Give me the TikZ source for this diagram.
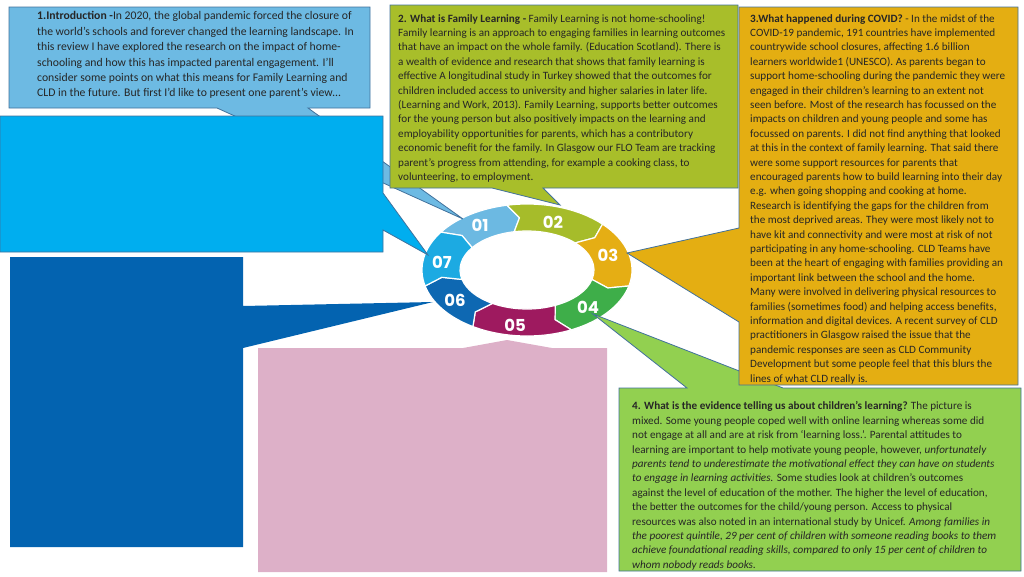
\documentclass[tikz,border=0pt]{standalone}
\usepackage{fontspec}
\setmainfont{Carlito}
\newfontfamily\numfont{Poppins}
\definecolor{cA}{HTML}{6DBAE3}
\definecolor{cAb}{HTML}{00AEEF}
\definecolor{cB}{HTML}{A8BE2A}
\definecolor{cC}{HTML}{E4AE12}
\definecolor{cD}{HTML}{92D050}
\definecolor{cE}{HTML}{DDB0C8}
\definecolor{cF}{HTML}{0363B0}
\definecolor{edge}{HTML}{41719C}
\definecolor{ink}{HTML}{262626}
\definecolor{rA}{HTML}{6CB9E2}
\definecolor{rB}{HTML}{A6BC2A}
\definecolor{rC}{HTML}{E5AE14}
\definecolor{rD}{HTML}{3EAE49}
\definecolor{rE}{HTML}{9E1A5F}
\definecolor{rF}{HTML}{0E68B2}
\definecolor{rG}{HTML}{1CAAE2}
\tikzset{
  geom/.style={anchor=north west, inner sep=0pt, outer sep=0pt, rectangle},
  callout/.style={draw=edge, line width=0.8pt, line join=miter},
  plain/.style={draw=none},
  txt/.style={anchor=north west, inner sep=0pt, align=left, text=ink, font=\fontsize{11.15}{14.4}\selectfont},
  txtbig/.style={anchor=north west, inner sep=0pt, align=left, text=ink, font=\fontsize{11.7}{15.4}\selectfont},
  num/.style={text=white, inner sep=0pt, font=\numfont\bfseries\fontsize{16.5}{16.5}\selectfont},
  seg/.style={draw=white, line width=1.2pt, line join=round}
}
\begin{document}
\begin{tikzpicture}[x=1pt,y=-1pt]
\useasboundingbox (0,0) rectangle (1024,576);
% ---- ring ----
\begin{scope}[shift={(527,270)}]
\foreach \col/\as/\ae in {rA/-145/-101, rB/-101/-44, rC/-44/14, rD/14/65, rE/65/121, rF/121/166, rG/166/215}{
  \path[seg, fill=\col] (\as:105 and 66) arc[start angle=\as, end angle=\ae, x radius=105, y radius=66]
    -- (\ae+6:86 and 52.5) -- (\ae:67 and 39)
    arc[start angle=\ae, end angle=\as, x radius=67, y radius=39]
    -- (\as+6:86 and 52.5) -- cycle;
}
\end{scope}
% ---- tips ----
\coordinate (t1) at (463,219);
\coordinate (t2) at (560,205);
\coordinate (t3) at (627,253);
\coordinate (t4) at (593,314);
\coordinate (t5) at (507,340);
\coordinate (t6) at (433,302);
\coordinate (t7) at (428,255);
% ---- box 1 intro ----
\node[geom, minimum width=361pt, minimum height=101pt] (b1) at (9,7) {};
\path[callout, fill=cA] (b1.north west) -- (b1.north east) -- (b1.south east) -- (308,108) -- (t1) -- (217,108) -- (b1.south west) -- cycle;
\node[txtbig] (x1) at (37,11.5) {\textbf{1.Introduction -}In 2020, the global pandemic forced the closure of\\
the world’s schools and forever changed the learning landscape.  In\\
this review I have explored the research on the impact of home-\\
schooling and how this has impacted parental engagement.  I’ll\\
consider some points on what this means for Family Learning and\\
CLD in the future. But first I’d like to present one parent’s view…};
% ---- box 2 ----
\node[geom, minimum width=348pt, minimum height=183pt] (b2) at (390,5) {};
\path[callout, fill=cB] (b2.north west) -- (b2.north east) -- (b2.south east) -- (543,188) -- (t2) -- (492,188) -- (b2.south west) -- cycle;
\node[txt] (x2) at (398,14) {\textbf{2. What is Family Learning -} Family Learning is not home-schooling!\\
Family learning is an approach to engaging families in learning outcomes\\
that have an impact on the whole family. (Education Scotland).  There is\\
a wealth of evidence and research that shows that family learning is\\
effective  A longitudinal study in Turkey showed that the outcomes for\\
children included access to university and higher salaries in later life.\\
(Learning and Work, 2013).  Family Learning, supports better outcomes\\
for the young person but also positively impacts on the learning and\\
employability opportunities for parents, which has a contributory\\
economic benefit for the family.  In Glasgow our FLO Team are tracking\\
parent’s progress from attending, for example a cooking class, to\\
volunteering, to employment.};
% ---- box 1b (bright blue) ----
\node[geom, minimum width=383pt, minimum height=136pt] (b7) at (0,116) {};
\path[callout, fill=cAb] (b7.north west) -- (b7.north east) -- (383,193) -- (t7) -- (383,230) -- (b7.south east) -- (b7.south west) -- cycle;
% ---- box 6 (dark blue) ----
\node[geom, minimum width=233pt, minimum height=290pt] (b6) at (10,257) {};
\path[plain, fill=cF] (b6.north west) -- (b6.north east) -- (243,306) -- (t6) -- (243,348) -- (b6.south east) -- (b6.south west) -- cycle;
% ---- box 5 (pink) ----
\node[geom, minimum width=349pt, minimum height=224pt] (b5) at (258,348) {};
\path[plain, fill=cE] (b5.north west) -- (463,348) -- (t5) -- (552,348) -- (b5.north east) -- (b5.south east) -- (b5.south west) -- cycle;
% ---- box 4 (green) ----
\node[geom, minimum width=402pt, minimum height=183pt] (b4) at (619,388) {};
\path[callout, fill=cD] (b4.north west) -- (687,388) -- (t4) -- (783,388) -- (b4.north east) -- (b4.south east) -- (b4.south west) -- cycle;
\node[txt] (x4) at (632,401.5) {\textbf{4. What is the evidence telling us about children’s learning?} The picture is\\
mixed.  Some young people coped well with online learning whereas some did\\
not engage at all and are at risk from ‘learning loss.’.  Parental attitudes to\\
learning are important to help motivate young people, however, \textit{unfortunately}\\
\textit{parents tend to underestimate the motivational effect they can have on students}\\
\textit{to engage in learning activities.}  Some studies look at children’s outcomes\\
against the level of education of the mother.  The higher the level of education,\\
the better the outcomes for the child/young person.  Access to physical\\
resources was also noted in an international study by Unicef.  \textit{Among families in}\\
\textit{the poorest quintile, 29 per cent of children with someone reading books to them}\\
\textit{achieve foundational reading skills, compared to only 15 per cent of children to}\\
\textit{whom nobody reads books.}};
% ---- box 3 (gold) ----
\node[geom, minimum width=279pt, minimum height=378pt] (b3) at (739,7) {};
\path[callout, fill=cC] (b3.north west) -- (b3.north east) -- (b3.south east) -- (b3.south west) -- (739,322) -- (t3) -- (739,228) -- cycle;
\node[txt] (x3) at (750,14) {\textbf{3.What happened during COVID?} - In the midst of the\\
COVID-19 pandemic, 191 countries have implemented\\
countrywide school closures, affecting 1.6 billion\\
learners worldwide1 (UNESCO).  As parents began to\\
support home-schooling during the pandemic they were\\
engaged in their children’s learning to an extent not\\
seen before.  Most of the research has focussed on the\\
impacts on children and young people and some has\\
focussed on parents.  I did not find anything that looked\\
at this in the context of family learning.  That said there\\
were some support resources for parents that\\
encouraged parents how to build learning into their day\\
e.g. when going shopping and cooking at home.\\
Research is identifying the gaps for the children from\\
the most deprived areas.  They were most likely not to\\
have kit and connectivity and were most at risk of not\\
participating in any home-schooling.  CLD Teams have\\
been at the heart of engaging with families providing an\\
important link between the school and the home.\\
Many were involved in delivering physical resources to\\
families (sometimes food) and helping access benefits,\\
information and digital devices.  A recent survey of CLD\\
practitioners in Glasgow raised the issue that the\\
pandemic responses are seen as CLD Community\\
Development but some people feel that this blurs the\\
lines of what CLD really is.};
% ---- ring labels ----
\node[num] (l1) at (480,225) {01};
\node[num] (l2) at (553,222) {02};
\node[num] (l3) at (608,255) {03};
\node[num] (l4) at (588,307) {04};
\node[num] (l5) at (515,325) {05};
\node[num] (l6) at (455,300) {06};
\node[num] (l7) at (442,262) {07};
\end{tikzpicture}
\end{document}
